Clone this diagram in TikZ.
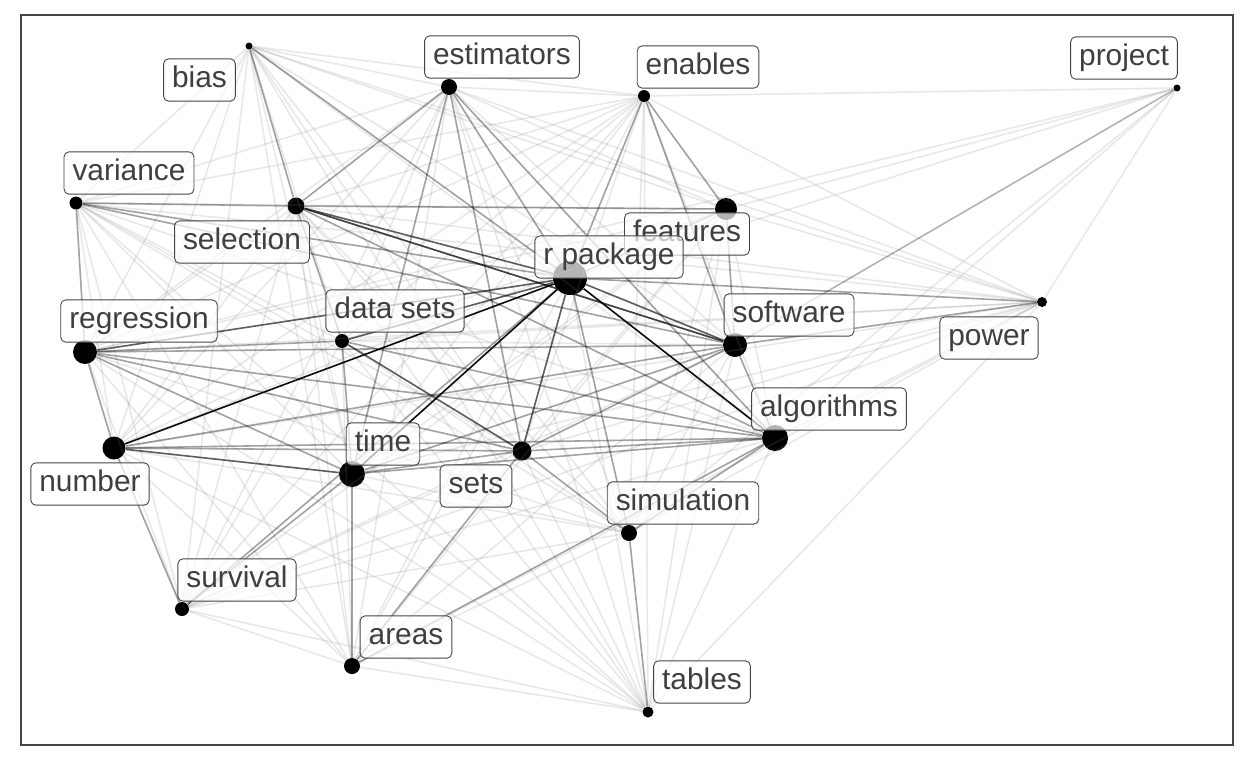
\documentclass[tikz,border=0pt]{standalone}
\usepackage{fontspec}
\setmainfont{Liberation Sans}
\definecolor{txtgray}{HTML}{3F3F3F}
\definecolor{boxgray}{HTML}{444444}
\tikzset{
  pt/.style={circle,fill=black,inner sep=0pt,minimum size=#1*0.02cm},
  lbl/.style={draw=boxgray,line width=0.5pt,fill=white,fill opacity=0.7,
    text opacity=1,draw opacity=1,rounded corners=0.1cm,text=txtgray,
    font=\fontsize{17}{19}\selectfont,inner xsep=0.17cm,inner ysep=4pt,
    text height=12.5pt,text depth=3.6pt},
  faint/.style={gray,opacity=0.18,line width=0.9pt},
  mid/.style={black,opacity=0.3,line width=0.9pt},
  strong/.style={black,opacity=0.6,line width=0.9pt},
  top/.style={black,opacity=0.95,line width=0.9pt}
}
\begin{document}
\begin{tikzpicture}[x=0.02cm,y=-0.02cm]
\useasboundingbox (0,0) rectangle (1248,768);
\draw[boxgray,line width=0.75pt] (21,15) rectangle (1233,745);

% points
\node[pt=7]  (bias)     at (249,46)  {};
\node[pt=16] (estim)    at (449,87)  {};
\node[pt=12] (enables)  at (644,96)  {};
\node[pt=7]  (project)  at (1177,88) {};
\node[pt=13] (variance) at (76,203)  {};
\node[pt=17] (select)   at (296,206) {};
\node[pt=22] (features) at (726,209) {};
\node[pt=34] (rpkg)     at (570,278) {};
\node[pt=10] (power)    at (1042,302) {};
\node[pt=24] (software) at (735,345) {};
\node[pt=24] (regr)     at (85,352)  {};
\node[pt=14] (dsets)    at (342,341) {};
\node[pt=26] (algo)     at (775,438) {};
\node[pt=23] (number)   at (114,448) {};
\node[pt=26] (time)     at (352,474) {};
\node[pt=19] (sets)     at (522,451) {};
\node[pt=16] (simul)    at (629,533) {};
\node[pt=14] (survival) at (182,609) {};
\node[pt=16] (areas)    at (352,666) {};
\node[pt=11] (tables)   at (648,712) {};

% edges
\def\allnodes{bias,estim,enables,variance,select,features,rpkg,power,software,regr,dsets,algo,number,time,sets,simul,survival,areas,tables}
\foreach \a [count=\i] in \allnodes {
  \foreach \b [count=\j] in \allnodes {
    \ifnum\j>\i \draw[faint] (\a) -- (\b); \fi
  }
}
\foreach \b in {enables,features,rpkg,algo,simul,power,regr}
  \draw[faint] (project) -- (\b);
\foreach \a/\b in {regr/software,regr/algo,regr/sets,regr/time,regr/number,
    regr/dsets,regr/variance,number/software,number/algo,number/sets,
    time/algo,time/software,time/sets,sets/algo,sets/software,software/algo,
    select/software,select/algo,select/variance,select/estim,select/bias,
    select/dsets,estim/rpkg,estim/time,estim/sets,estim/algo,enables/rpkg,
    enables/features,enables/software,features/rpkg,features/software,
    features/select,variance/rpkg,variance/software,bias/rpkg,
    time/survival,survival/number,survival/rpkg,algo/simul,simul/sets,
    simul/rpkg,simul/tables,areas/sets,areas/time,areas/algo,power/software,
    power/rpkg,project/software,dsets/algo,dsets/time}
  \draw[mid] (\a) -- (\b);
\foreach \a/\b in {rpkg/regr,rpkg/select,rpkg/software,rpkg/dsets,rpkg/sets,
    dsets/sets,number/time,select/software}
  \draw[strong] (\a) -- (\b);
\foreach \b in {algo,time,number}
  \draw[top] (rpkg) -- (\b);

% labels
\node[lbl] (bias-l)     at (199.5,80) {bias};
\node[lbl] (estim-l)    at (502,57)   {estimators};
\node[lbl] (enables-l)  at (698,67)   {enables};
\node[lbl] (project-l)  at (1124,58)  {project};
\node[lbl] (variance-l) at (129,173)  {variance};
\node[lbl] (select-l)   at (242,242)  {selection};
\node[lbl] (features-l) at (687,234)  {features};
\node[lbl] (rpkg-l)     at (609,257)  {r package};
\node[lbl] (power-l)    at (989,338)  {power};
\node[lbl] (software-l) at (789,315)  {software};
\node[lbl] (regr-l)     at (139,321)  {regression};
\node[lbl] (dsets-l)    at (395,311)  {data sets};
\node[lbl] (algo-l)     at (829,409)  {algorithms};
\node[lbl] (number-l)   at (90,484)   {number};
\node[lbl] (time-l)     at (383,444)  {time};
\node[lbl] (sets-l)     at (476,486)  {sets};
\node[lbl] (simul-l)    at (683,503)  {simulation};
\node[lbl] (survival-l) at (237,580)  {survival};
\node[lbl] (areas-l)    at (406,637)  {areas};
\node[lbl] (tables-l)   at (702,682)  {tables};
\end{tikzpicture}
\end{document}
